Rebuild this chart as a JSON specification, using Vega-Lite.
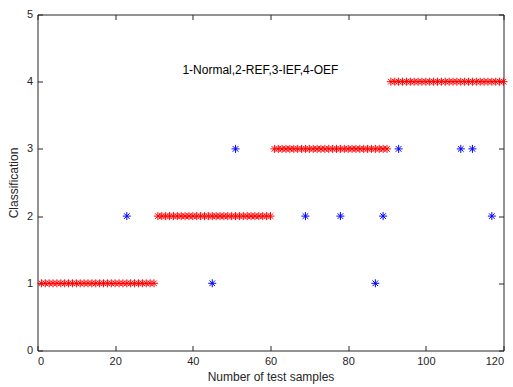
{
  "$schema": "https://vega.github.io/schema/vega-lite/v6.json",
  "width": 466,
  "height": 336,
  "autosize": {"type": "none"},
  "padding": {"left": 37.5, "top": 14.5, "right": 9.5, "bottom": 36.5},
  "background": "white",
  "config": {
    "view": {"stroke": "#262626", "strokeWidth": 1},
    "font": "Liberation Sans",
    "axis": {
      "domain": false,
      "grid": false,
      "tickColor": "#262626",
      "tickSize": -5,
      "labelColor": "#262626",
      "labelFont": "Liberation Sans",
      "labelFontSize": 11,
      "titleFont": "Liberation Sans",
      "titleFontSize": 12,
      "titleFontWeight": "normal",
      "titleColor": "#262626"
    }
  },
  "datasets": {
    "pts": [
      {"sample": 1, "class": 1, "series": "actual"},
      {"sample": 2, "class": 1, "series": "actual"},
      {"sample": 3, "class": 1, "series": "actual"},
      {"sample": 4, "class": 1, "series": "actual"},
      {"sample": 5, "class": 1, "series": "actual"},
      {"sample": 6, "class": 1, "series": "actual"},
      {"sample": 7, "class": 1, "series": "actual"},
      {"sample": 8, "class": 1, "series": "actual"},
      {"sample": 9, "class": 1, "series": "actual"},
      {"sample": 10, "class": 1, "series": "actual"},
      {"sample": 11, "class": 1, "series": "actual"},
      {"sample": 12, "class": 1, "series": "actual"},
      {"sample": 13, "class": 1, "series": "actual"},
      {"sample": 14, "class": 1, "series": "actual"},
      {"sample": 15, "class": 1, "series": "actual"},
      {"sample": 16, "class": 1, "series": "actual"},
      {"sample": 17, "class": 1, "series": "actual"},
      {"sample": 18, "class": 1, "series": "actual"},
      {"sample": 19, "class": 1, "series": "actual"},
      {"sample": 20, "class": 1, "series": "actual"},
      {"sample": 21, "class": 1, "series": "actual"},
      {"sample": 22, "class": 1, "series": "actual"},
      {"sample": 23, "class": 1, "series": "actual"},
      {"sample": 24, "class": 1, "series": "actual"},
      {"sample": 25, "class": 1, "series": "actual"},
      {"sample": 26, "class": 1, "series": "actual"},
      {"sample": 27, "class": 1, "series": "actual"},
      {"sample": 28, "class": 1, "series": "actual"},
      {"sample": 29, "class": 1, "series": "actual"},
      {"sample": 30, "class": 1, "series": "actual"},
      {"sample": 31, "class": 2, "series": "actual"},
      {"sample": 32, "class": 2, "series": "actual"},
      {"sample": 33, "class": 2, "series": "actual"},
      {"sample": 34, "class": 2, "series": "actual"},
      {"sample": 35, "class": 2, "series": "actual"},
      {"sample": 36, "class": 2, "series": "actual"},
      {"sample": 37, "class": 2, "series": "actual"},
      {"sample": 38, "class": 2, "series": "actual"},
      {"sample": 39, "class": 2, "series": "actual"},
      {"sample": 40, "class": 2, "series": "actual"},
      {"sample": 41, "class": 2, "series": "actual"},
      {"sample": 42, "class": 2, "series": "actual"},
      {"sample": 43, "class": 2, "series": "actual"},
      {"sample": 44, "class": 2, "series": "actual"},
      {"sample": 45, "class": 2, "series": "actual"},
      {"sample": 46, "class": 2, "series": "actual"},
      {"sample": 47, "class": 2, "series": "actual"},
      {"sample": 48, "class": 2, "series": "actual"},
      {"sample": 49, "class": 2, "series": "actual"},
      {"sample": 50, "class": 2, "series": "actual"},
      {"sample": 51, "class": 2, "series": "actual"},
      {"sample": 52, "class": 2, "series": "actual"},
      {"sample": 53, "class": 2, "series": "actual"},
      {"sample": 54, "class": 2, "series": "actual"},
      {"sample": 55, "class": 2, "series": "actual"},
      {"sample": 56, "class": 2, "series": "actual"},
      {"sample": 57, "class": 2, "series": "actual"},
      {"sample": 58, "class": 2, "series": "actual"},
      {"sample": 59, "class": 2, "series": "actual"},
      {"sample": 60, "class": 2, "series": "actual"},
      {"sample": 61, "class": 3, "series": "actual"},
      {"sample": 62, "class": 3, "series": "actual"},
      {"sample": 63, "class": 3, "series": "actual"},
      {"sample": 64, "class": 3, "series": "actual"},
      {"sample": 65, "class": 3, "series": "actual"},
      {"sample": 66, "class": 3, "series": "actual"},
      {"sample": 67, "class": 3, "series": "actual"},
      {"sample": 68, "class": 3, "series": "actual"},
      {"sample": 69, "class": 3, "series": "actual"},
      {"sample": 70, "class": 3, "series": "actual"},
      {"sample": 71, "class": 3, "series": "actual"},
      {"sample": 72, "class": 3, "series": "actual"},
      {"sample": 73, "class": 3, "series": "actual"},
      {"sample": 74, "class": 3, "series": "actual"},
      {"sample": 75, "class": 3, "series": "actual"},
      {"sample": 76, "class": 3, "series": "actual"},
      {"sample": 77, "class": 3, "series": "actual"},
      {"sample": 78, "class": 3, "series": "actual"},
      {"sample": 79, "class": 3, "series": "actual"},
      {"sample": 80, "class": 3, "series": "actual"},
      {"sample": 81, "class": 3, "series": "actual"},
      {"sample": 82, "class": 3, "series": "actual"},
      {"sample": 83, "class": 3, "series": "actual"},
      {"sample": 84, "class": 3, "series": "actual"},
      {"sample": 85, "class": 3, "series": "actual"},
      {"sample": 86, "class": 3, "series": "actual"},
      {"sample": 87, "class": 3, "series": "actual"},
      {"sample": 88, "class": 3, "series": "actual"},
      {"sample": 89, "class": 3, "series": "actual"},
      {"sample": 90, "class": 3, "series": "actual"},
      {"sample": 91, "class": 4, "series": "actual"},
      {"sample": 92, "class": 4, "series": "actual"},
      {"sample": 93, "class": 4, "series": "actual"},
      {"sample": 94, "class": 4, "series": "actual"},
      {"sample": 95, "class": 4, "series": "actual"},
      {"sample": 96, "class": 4, "series": "actual"},
      {"sample": 97, "class": 4, "series": "actual"},
      {"sample": 98, "class": 4, "series": "actual"},
      {"sample": 99, "class": 4, "series": "actual"},
      {"sample": 100, "class": 4, "series": "actual"},
      {"sample": 101, "class": 4, "series": "actual"},
      {"sample": 102, "class": 4, "series": "actual"},
      {"sample": 103, "class": 4, "series": "actual"},
      {"sample": 104, "class": 4, "series": "actual"},
      {"sample": 105, "class": 4, "series": "actual"},
      {"sample": 106, "class": 4, "series": "actual"},
      {"sample": 107, "class": 4, "series": "actual"},
      {"sample": 108, "class": 4, "series": "actual"},
      {"sample": 109, "class": 4, "series": "actual"},
      {"sample": 110, "class": 4, "series": "actual"},
      {"sample": 111, "class": 4, "series": "actual"},
      {"sample": 112, "class": 4, "series": "actual"},
      {"sample": 113, "class": 4, "series": "actual"},
      {"sample": 114, "class": 4, "series": "actual"},
      {"sample": 115, "class": 4, "series": "actual"},
      {"sample": 116, "class": 4, "series": "actual"},
      {"sample": 117, "class": 4, "series": "actual"},
      {"sample": 118, "class": 4, "series": "actual"},
      {"sample": 119, "class": 4, "series": "actual"},
      {"sample": 120, "class": 4, "series": "actual"},
      {"sample": 23, "class": 2, "series": "predicted"},
      {"sample": 45, "class": 1, "series": "predicted"},
      {"sample": 51, "class": 3, "series": "predicted"},
      {"sample": 69, "class": 2, "series": "predicted"},
      {"sample": 78, "class": 2, "series": "predicted"},
      {"sample": 87, "class": 1, "series": "predicted"},
      {"sample": 89, "class": 2, "series": "predicted"},
      {"sample": 93, "class": 3, "series": "predicted"},
      {"sample": 109, "class": 3, "series": "predicted"},
      {"sample": 112, "class": 3, "series": "predicted"},
      {"sample": 117, "class": 2, "series": "predicted"}
    ],
    "note": [
      {"sample": 57.4, "class": 4.17, "label": "1-Normal,2-REF,3-IEF,4-OEF"}
    ]
  },
  "layer": [
    {
      "data": {"name": "pts"},
      "mark": {
        "type": "point",
        "shape": "M-1,0L1,0M0,-1L0,1M-0.7,-0.7L0.7,0.7M-0.7,0.7L0.7,-0.7",
        "filled": false,
        "size": 64,
        "strokeWidth": 1,
        "opacity": 1
      },
      "encoding": {
        "x": {
          "field": "sample", "type": "quantitative",
          "scale": {"domain": [0, 120], "nice": false, "zero": false},
          "axis": {"orient": "bottom", "values": [0, 20, 40, 60, 80, 100, 120], "title": "Number of test samples", "labelPadding": 10, "titlePadding": 5}
        },
        "y": {
          "field": "class", "type": "quantitative",
          "scale": {"domain": [0, 5], "nice": false},
          "axis": {"orient": "left", "values": [0, 1, 2, 3, 4, 5], "title": "Classification", "labelPadding": 10, "titlePadding": 6}
        },
        "color": {
          "field": "series", "type": "nominal",
          "scale": {"domain": ["actual", "predicted"], "range": ["#ff0000", "#0000ff"]},
          "legend": null
        }
      }
    },
    {
      "data": {"name": "note"},
      "mark": {"type": "text", "font": "Liberation Sans", "fontSize": 12, "color": "#000000", "align": "center", "baseline": "middle"},
      "encoding": {
        "x": {
          "field": "sample", "type": "quantitative",
          "axis": {"orient": "top", "values": [0, 20, 40, 60, 80, 100, 120], "labels": false, "title": null}
        },
        "y": {
          "field": "class", "type": "quantitative",
          "axis": {"orient": "right", "values": [0, 1, 2, 3, 4, 5], "labels": false, "title": null}
        },
        "text": {"field": "label"}
      }
    }
  ],
  "resolve": {"axis": {"x": "independent", "y": "independent"}}
}
